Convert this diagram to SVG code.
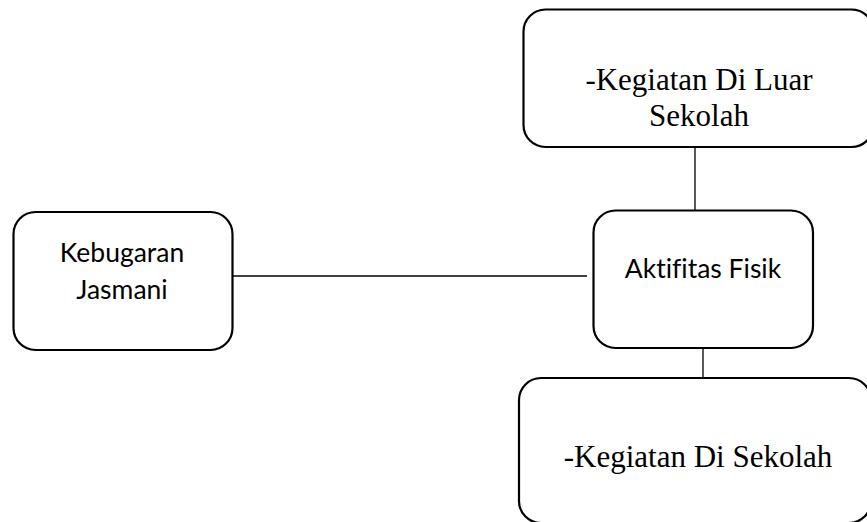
<svg xmlns="http://www.w3.org/2000/svg" width="867" height="522" viewBox="0 0 867 522">
  <style>
    .box { fill: #ffffff; stroke: #000000; stroke-width: 2.2; }
    .conn { stroke: #000000; stroke-width: 1.3; fill: none; }
    .sans { font-family: Lato, "Open Sans", "Liberation Sans", sans-serif; font-size: 26.5px; fill: #000000; text-anchor: middle; font-variant-ligatures: none; }
    .serif { font-family: "Liberation Serif", "Times New Roman", serif; font-size: 31px; fill: #000000; text-anchor: middle; }
  </style>
  <rect width="867" height="522" fill="#ffffff"/>
  <g id="connectors">
    <line class="conn" x1="233" y1="276" x2="587" y2="276"/>
    <line class="conn" x1="695" y1="147" x2="695" y2="210"/>
    <line class="conn" x1="703" y1="348" x2="703" y2="380"/>
  </g>
  <g id="kebugaran">
    <rect class="box" x="13.5" y="212" width="219" height="138" rx="22" ry="22"/>
    <text class="sans" x="122" y="262">Kebugaran</text>
    <text class="sans" x="122" y="299">Jasmani</text>
  </g>
  <g id="luar-sekolah">
    <rect class="box" x="523.5" y="9.5" width="350" height="137.5" rx="22" ry="22"/>
    <text class="serif" x="699" y="90">-Kegiatan Di Luar</text>
    <text class="serif" x="699" y="126">Sekolah</text>
  </g>
  <g id="aktifitas">
    <rect class="box" x="593.5" y="210.5" width="219.5" height="137.5" rx="22" ry="22"/>
    <text class="sans" x="703" y="278">Aktifitas Fisik</text>
  </g>
  <g id="di-sekolah">
    <rect class="box" x="519" y="378" width="352" height="145" rx="22" ry="22"/>
    <text class="serif" x="698" y="467">-Kegiatan Di Sekolah</text>
  </g>
</svg>
